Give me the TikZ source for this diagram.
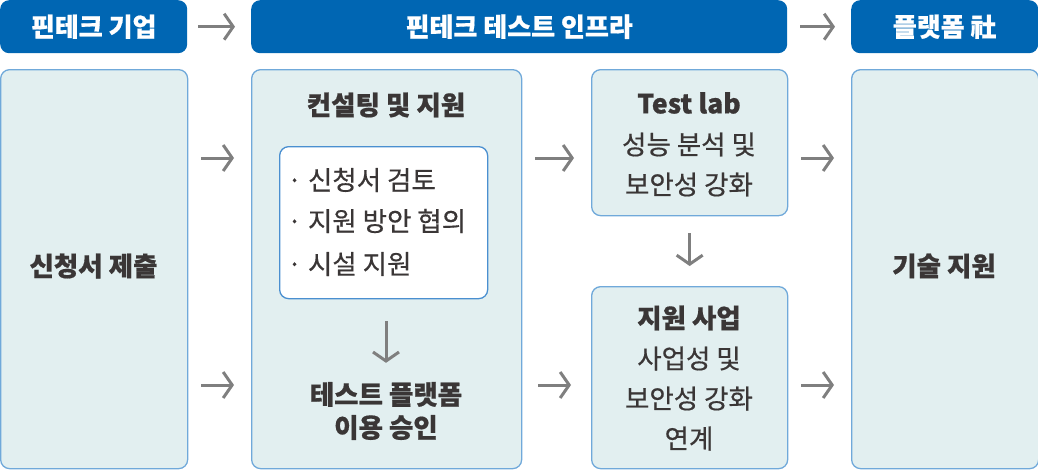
\documentclass[tikz,border=0pt]{standalone}
\usepackage{fontspec}
\setmainfont{Noto Sans CJK KR}[BoldFeatures={FakeBold=0.6}]
\newfontfamily\medfont{Noto Sans CJK KR}[FakeBold=0.5]
\usetikzlibrary{arrows.meta}
\definecolor{hdr}{HTML}{0066B3}
\definecolor{boxfill}{HTML}{E2EFF0}
\definecolor{boxline}{HTML}{70A9DA}
\definecolor{innerline}{HTML}{4A8FD0}
\definecolor{txt}{HTML}{3A3636}
\definecolor{arrowc}{HTML}{7F7F7F}
\begin{document}
\begin{tikzpicture}[x=1pt,y=-1pt,
  hdrbox/.style={fill=hdr, rounded corners=9pt, text=white, inner sep=0pt,
    anchor=north west, minimum height=53pt,
    font=\fontsize{26}{30}\selectfont\bfseries},
  bodybox/.style={fill=boxfill, draw=boxline, line width=1.3pt, rounded corners=9pt,
    inner sep=0pt, anchor=north west},
  innerbox/.style={fill=white, draw=innerline, line width=1.3pt, rounded corners=9pt,
    inner sep=0pt, anchor=north west},
  ttl/.style={text=txt, font=\fontsize{26.5}{30}\selectfont\bfseries, inner sep=0pt},
  bodytxt/.style={text=txt, font=\fontsize{26.5}{40}\selectfont\medfont, inner sep=0pt, align=center},
  itemtxt/.style={text=txt, font=\fontsize{26.5}{30}\selectfont\medfont, inner sep=0pt, anchor=west},
  arr/.style={draw=arrowc, line width=3pt, -{Straight Barb[length=9pt,width=26pt,line width=3pt]}}
]
\useasboundingbox (0,0) rectangle (1038,469);

% headers
\node[hdrbox, minimum width=187pt] (h1) at (0,0) {핀테크 기업};
\node[hdrbox, minimum width=536pt] (h2) at (251,0) {핀테크 테스트 인프라};
\node[hdrbox, minimum width=187pt] (h3) at (851,0) {플랫폼 社};
\draw[arr, shorten <=11pt, shorten >=16pt] (h1.east) -- (h2.west);
\draw[arr, shorten <=13pt, shorten >=16pt] (h2.east) -- (h3.west);

% body boxes
\node[bodybox, minimum width=187pt, minimum height=399pt] (L) at (0,69) {};
\node[ttl] (Lt) at (93.5,266) {신청서 제출};
\node[bodybox, minimum width=270pt, minimum height=399pt] (M) at (251,69) {};
\node[bodybox, minimum width=196pt, minimum height=146pt] (T) at (591,69) {};
\node[bodybox, minimum width=196pt, minimum height=182pt] (S) at (591,286) {};
\node[bodybox, minimum width=187pt, minimum height=399pt] (R) at (851,69) {};
\node[ttl] (Rt) at (944,266) {기술 지원};

% middle column
\node[ttl] (Mt) at (386,105) {컨설팅 및 지원};
\node[innerbox, minimum width=208pt, minimum height=152pt] (In) at (279,146) {};
\node[itemtxt] (i1) at (287,180) {· 신청서 검토};
\node[itemtxt] (i2) at (287,221) {· 지원 방안 협의};
\node[itemtxt] (i3) at (287,264) {· 시설 지원};
\node[ttl, align=center, font=\fontsize{26.5}{33}\selectfont\bfseries] (Mb) at (386,411) {테스트 플랫폼\\이용 승인};
\draw[arr, shorten <=22pt, shorten >=19pt] (In.south -| Mb.north) -- (Mb.north);

% test lab
\node[ttl] (Tt) at (689,103) {Test lab};
\node[bodytxt] (Tb) at (689,164.5) {성능 분석 및\\보안성 강화};
% support
\node[ttl] (St) at (689,318) {지원 사업};
\node[bodytxt] (Sb) at (689,398.5) {사업성 및\\보안성 강화\\연계};
\draw[arr, shorten <=17pt, shorten >=20pt] (T.south) -- (S.north);

% horizontal arrows
\coordinate (r1) at (0,158);
\coordinate (r2) at (0,385);
\foreach \a/\b in {L/M, M/T, T/R}{
  \draw[arr, shorten <=13pt, shorten >=17pt] (\a.east |- r1) -- (\b.west |- r1);
}
\draw[arr, shorten <=13pt, shorten >=17pt] (L.east |- r2) -- (M.west |- r2);
\draw[arr, shorten <=16pt, shorten >=20pt] (M.east |- r2) -- (S.west |- r2);
\draw[arr, shorten <=13pt, shorten >=17pt] (S.east |- r2) -- (R.west |- r2);
\end{tikzpicture}
\end{document}
